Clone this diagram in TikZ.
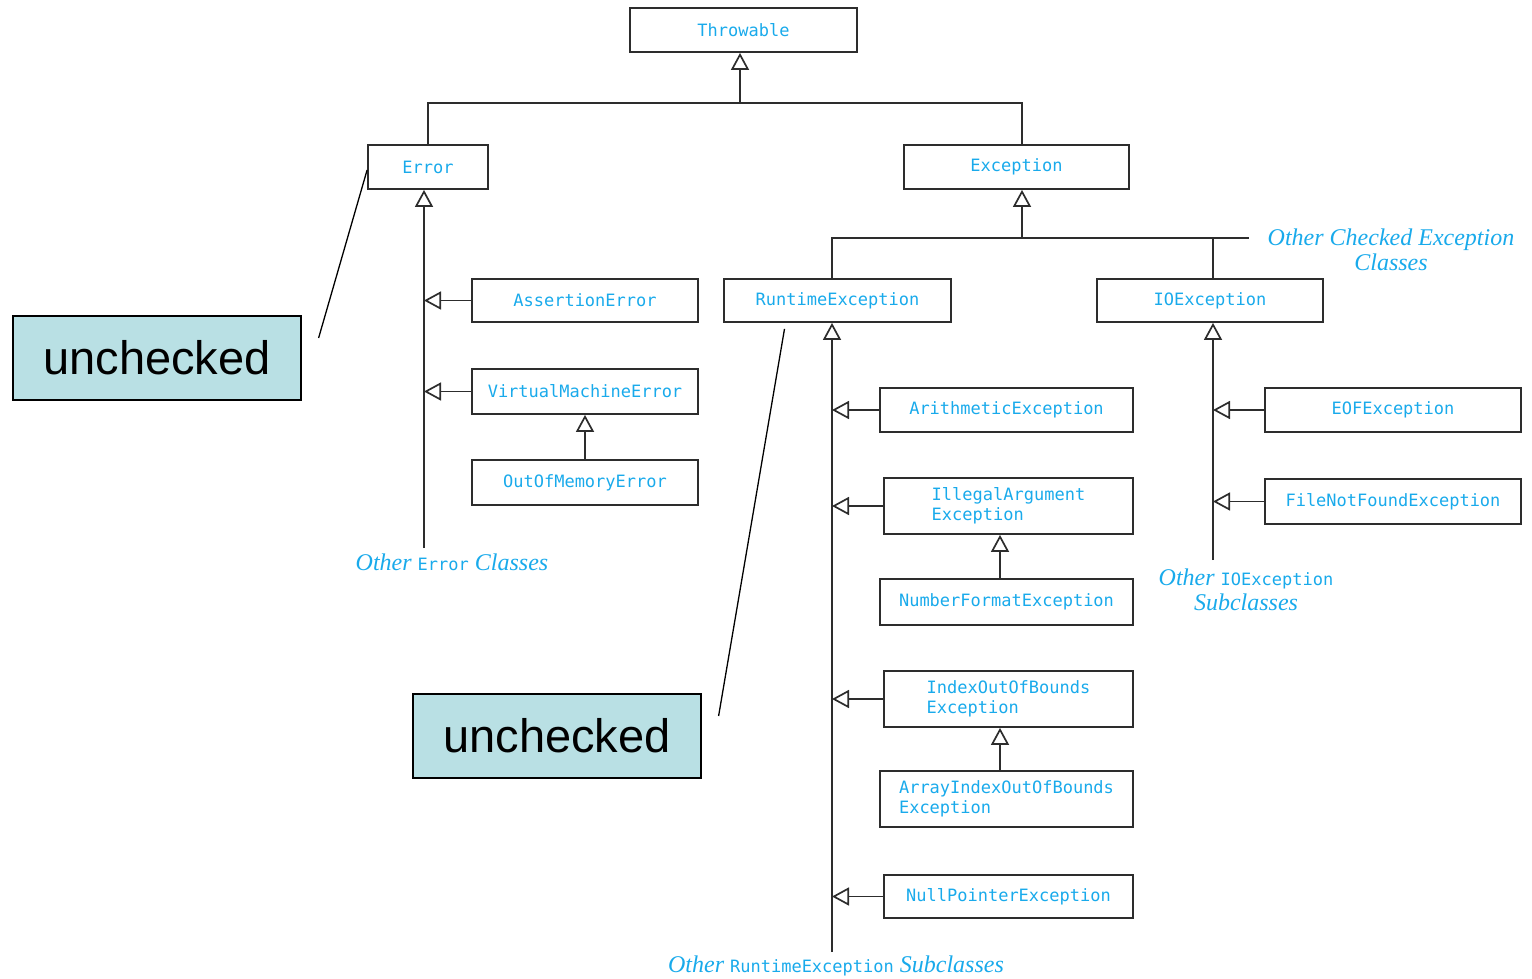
\documentclass[tikz,border=0pt]{standalone}
\usepackage{fontspec}
\setmainfont{Liberation Serif}
\setsansfont{Liberation Sans}
\setmonofont{DejaVu Sans Mono}
\usepackage{xcolor}
\usetikzlibrary{arrows.meta}
\definecolor{clsblue}{RGB}{25,170,235}
\definecolor{notefill}{RGB}{185,224,228}
\definecolor{edge}{RGB}{45,45,45}

\begin{document}
\begin{tikzpicture}[
  x=1pt, y=-1pt,
  classbox/.style={draw=edge, line width=1.8pt, minimum height=44pt, inner sep=0pt,
    text=clsblue, font=\fontsize{17}{20}\selectfont\ttfamily, align=left},
  notebox/.style={draw=black, line width=1.2pt, fill=notefill, minimum width=288pt,
    minimum height=84pt, font=\fontsize{47}{50}\selectfont\sffamily},
  other/.style={text=clsblue, align=center, inner sep=0pt,
    font=\fontsize{24}{25}\selectfont\itshape},
  inherit/.style={draw=edge, line width=1.7pt,
    -{Triangle[open, length=17pt, width=18pt, line width=1.7pt]}},
  link/.style={draw=edge, line width=1.7pt},
  callout/.style={draw=black, line width=1.3pt}
]
\useasboundingbox (0,0) rectangle (1532,978);

% top of the tree
\node[classbox, minimum width=227pt] (thr) at (743.5,30) {Throwable};
\node[classbox, minimum width=120pt] (err) at (428,167) {Error};
\node[classbox, minimum width=225pt] (exc) at (1016.5,167) {Exception};

% Error side
\node[classbox, minimum width=226pt, minimum height=43pt] (asrt) at (585,300.5) {AssertionError};
\node[classbox, minimum width=226pt, minimum height=45pt] (vme) at (585,391.5) {VirtualMachineError};
\node[classbox, minimum width=226pt, minimum height=45pt] (oom) at (585,482.5) {OutOfMemoryError};

% Exception side
\node[classbox, minimum width=227pt, minimum height=43pt] (rte) at (837.5,300.5) {RuntimeException};
\node[classbox, minimum width=226pt, minimum height=43pt] (ioe) at (1210,300.5) {IOException};
\node[classbox, minimum width=253pt] (arith) at (1006.5,410) {ArithmeticException};
\node[classbox, minimum width=249pt, minimum height=56pt] (illeg) at (1008.5,506) {IllegalArgument\\Exception};
\node[classbox, minimum width=253pt, minimum height=46pt] (numf) at (1006.5,602) {NumberFormatException};
\node[classbox, minimum width=249pt, minimum height=56pt] (idx) at (1008.5,699) {IndexOutOfBounds\\Exception};
\node[classbox, minimum width=253pt, minimum height=56pt] (arr) at (1006.5,799) {ArrayIndexOutOfBounds\\Exception};
\node[classbox, minimum width=249pt, minimum height=43pt] (npe) at (1008.5,896.5) {NullPointerException};
\node[classbox, minimum width=256pt] (eof) at (1393,410) {EOFException};
\node[classbox, minimum width=256pt, minimum height=45pt] (fnf) at (1393,501.5) {FileNotFoundException};

% notes
\node[notebox] (unc1) at (157,358) {unchecked};
\node[notebox] (unc2) at (557,736) {unchecked};

% open ends
\newcommand\mono[1]{{\fontsize{17}{20}\selectfont\upshape\ttfamily #1}}
\node[other] (othErr) at (452,562) {Other \mono{Error} Classes};
\node[other] (othRte) at (836,966) {Other \mono{RuntimeException} Subclasses};
\node[other] (othIo) at (1246,590) {Other \mono{IOException}\\Subclasses};
\node[other] (othChk) at (1391,250) {Other Checked Exception\\Classes};

\coordinate (bus1) at (740,103);
\coordinate (bus2) at (1022,238);
\coordinate (chkEnd) at (1249,238);
\coordinate (errEnd) at (424,548);
\coordinate (rteEnd) at (832,952);
\coordinate (ioeEnd) at (1213,560);
\coordinate (sub1) at (1000,0);

% Throwable
\draw[inherit] (bus1) -- (bus1 |- thr.south);
\draw[link] (err.north) |- (bus1) -| (bus2 |- exc.north);

% Error
\draw[inherit] (errEnd) -- (errEnd |- err.south);
\draw[inherit] (asrt.west) -- (asrt.west -| errEnd);
\draw[inherit] (vme.west) -- (vme.west -| errEnd);
\draw[inherit] (oom.north) -- (vme.south);

% Exception
\draw[inherit] (bus2) -- (bus2 |- exc.south);
\draw[link] (rteEnd |- rte.north) |- (chkEnd);
\draw[link] (ioeEnd |- ioe.north) -- (ioeEnd |- chkEnd);

% RuntimeException
\draw[inherit] (rteEnd) -- (rteEnd |- rte.south);
\foreach \c in {arith,illeg,idx,npe}
  \draw[inherit] (\c.west) -- (\c.west -| rteEnd);
\draw[inherit] (sub1 |- numf.north) -- (sub1 |- illeg.south);
\draw[inherit] (sub1 |- arr.north) -- (sub1 |- idx.south);

% IOException
\draw[inherit] (ioeEnd) -- (ioeEnd |- ioe.south);
\foreach \c in {eof,fnf}
  \draw[inherit] (\c.west) -- (\c.west -| ioeEnd);

% callouts
\draw[callout] ([xshift=17pt,yshift=20pt]unc1.east) -- ([yshift=-3pt]err.west);
\draw[callout] ([xshift=17pt,yshift=20pt]unc2.east) -- ([xshift=-53pt,yshift=-6pt]rte.south);
\end{tikzpicture}
\end{document}
